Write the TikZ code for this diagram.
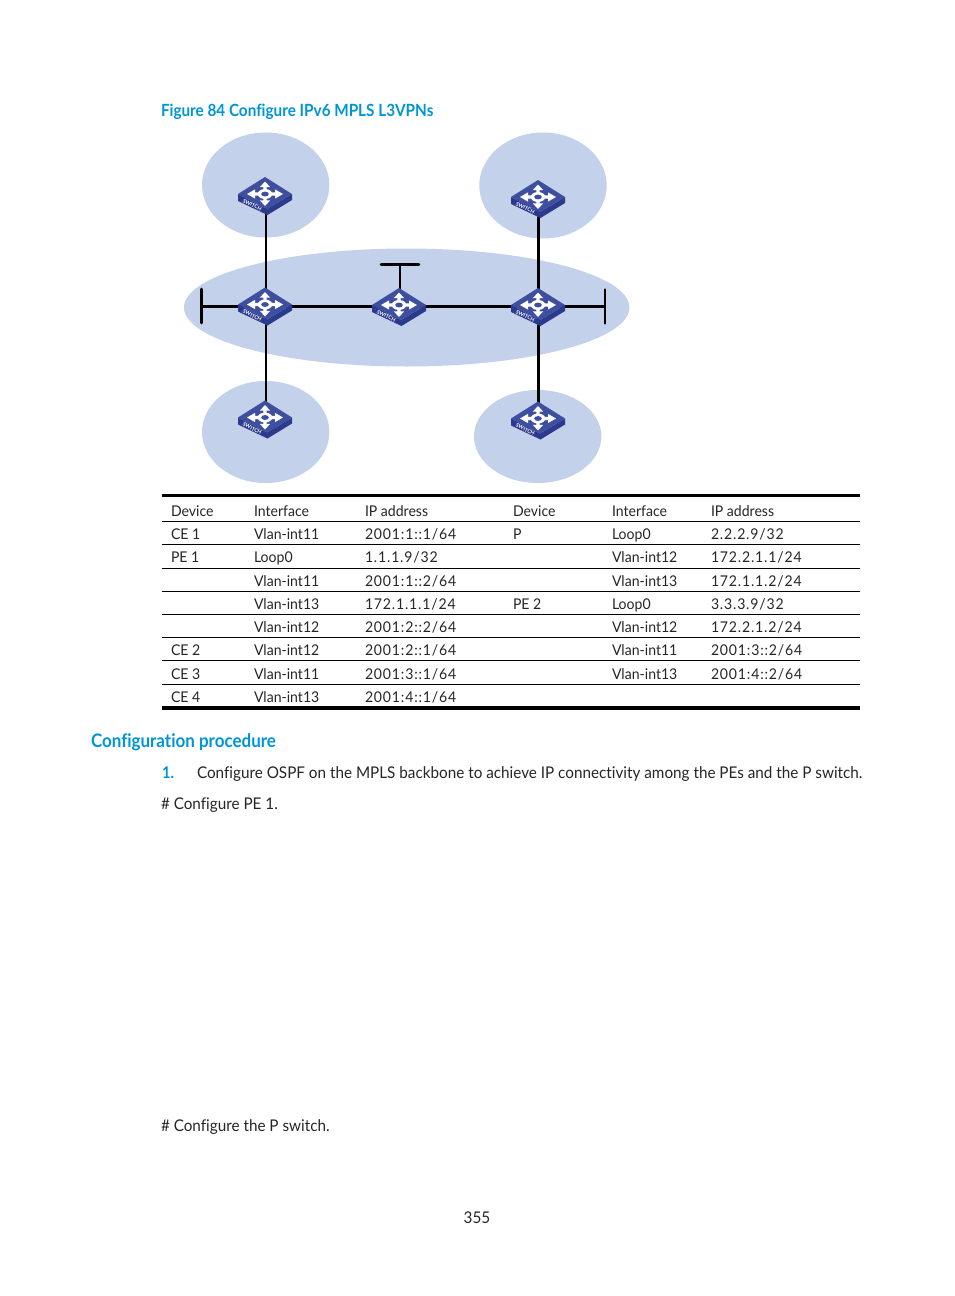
\documentclass[tikz,border=0pt]{standalone}
\usepackage{fontspec}
\setmainfont{Lato}
\newfontfamily\cellf[FakeStretch=0.95,Ligatures=NoCommon]{Lato}
\newfontfamily\addrf[FakeStretch=0.95,LetterSpace=5.6,Ligatures=NoCommon]{Lato}
\newfontfamily\bodyf[FakeStretch=0.946,Ligatures=NoCommon]{Lato}
\newfontfamily\headf[FakeStretch=0.91,Ligatures=NoCommon]{Lato}
\definecolor{hpblue}{HTML}{0096D6}
\definecolor{cloud}{HTML}{C3D1EB}
\definecolor{swtop}{HTML}{3F4F9F}
\definecolor{swside}{HTML}{2B3A8C}
\newcommand{\fs}[1]{\fontsize{#1}{#1}\selectfont}
\tikzset{
  x=0.75pt,y=-0.75pt,
  area/.style={fill=cloud,draw=none},
  link/.style={draw=black,line width=2.1pt},
  linkthin/.style={draw=black,line width=1.6pt},
  rulethin/.style={draw=black,line width=0.6pt},
  rulethick/.style={draw=black,line width=2.8pt},
  cell/.style={anchor=base west,inner sep=0pt,outer sep=0pt,font=\cellf\fs{11.1},text=black!85},
  addr/.style={anchor=base west,inner sep=0pt,outer sep=0pt,font=\addrf\fs{11.1},text=black!85},
  body/.style={anchor=base west,inner sep=0pt,outer sep=0pt,font=\bodyf\fs{12.1},text=black!85},
  heading/.style={anchor=base west,inner sep=0pt,outer sep=0pt,text=hpblue,font=\headf\bfseries\fs{12.6}},
  switch/.pic={
    \fill[swside] (-27,0) -- (2,15) -- (27,0) -- (27,6) -- (2.5,21) -- (-27,7) -- cycle;
    \fill[swtop] (-27,0) -- (0,-17) -- (27,0) -- (2,15) -- cycle;
    \begin{scope}[white]
      \fill (0,-12.5) -- (5.2,-6.8) -- (1.6,-6.8) -- (1.6,-2) -- (-1.6,-2) -- (-1.6,-6.8) -- (-5.2,-6.8) -- cycle;
      \fill (0,12) -- (5.2,6.3) -- (1.6,6.3) -- (1.6,2) -- (-1.6,2) -- (-1.6,6.3) -- (-5.2,6.3) -- cycle;
      \fill (-18,0) -- (-10,-4.6) -- (-10,-1.7) -- (-3,-1.7) -- (-3,1.7) -- (-10,1.7) -- (-10,4.6) -- cycle;
      \fill (18,0) -- (10,-4.6) -- (10,-1.7) -- (3,-1.7) -- (3,1.7) -- (10,1.7) -- (10,4.6) -- cycle;
      \fill (0,0) ellipse [x radius=7.2, y radius=5];
    \end{scope}
    \fill[swtop] (0,0) ellipse [x radius=3.8, y radius=2.4];
    \node[white,inner sep=0pt,font=\bfseries\fs{3.9},rotate=-27] (-lab) at (-12.7,11) {SWITCH};
  }
}
\newcommand{\cellat}[4]{\node[cell] (#1) at (#2,#3) {#4};}
\newcommand{\addrat}[4]{\node[addr] (#1) at (#2,#3) {#4};}
\begin{document}
\begin{tikzpicture}
\useasboundingbox (0,0) rectangle (954,1296);
\fill[white] (0,0) rectangle (954,1296);

\node[heading] (title) at (161,116) {Figure 84 Configure IPv6 MPLS L3VPNs};

% network areas
\fill[area] (265.7,185) ellipse [x radius=63.7, y radius=52.5];
\fill[area] (543,185.5) ellipse [x radius=63.7, y radius=53];
\fill[area] (406.7,307.5) ellipse [x radius=222.7, y radius=59];
\fill[area] (265.7,432) ellipse [x radius=63.7, y radius=51];
\fill[area] (537.7,436.5) ellipse [x radius=63.7, y radius=46.5];

% device positions
\coordinate (ce1) at (266,197);
\coordinate (ce2) at (538.3,200);
\coordinate (pe1) at (266,306.4);
\coordinate (p) at (400,306.4);
\coordinate (pe2) at (538.3,306.4);
\coordinate (ce3) at (266,418);
\coordinate (ce4) at (538.3,419);
\coordinate (lb1) at (201.5,289);
\coordinate (lb2) at (201.5,323);
\coordinate (lbm) at (201.5,306.4);
\coordinate (rb1) at (605,289.5);
\coordinate (rb2) at (605,323.5);
\coordinate (rbm) at (605,306.4);
\coordinate (tb1) at (381,264.3);
\coordinate (tb2) at (419,264.3);
\coordinate (tbm) at (400,264.3);

% connectors
\draw[link] (ce1) -- (pe1);
\draw[link] (pe1) -- (ce3);
\draw[link] (ce2) -- (pe2);
\draw[link] (pe2) -- (ce4);
\draw[link] (lbm) -- (pe1);
\draw[link] (pe1) -- (pe2);
\draw[link,line cap=round] (lb1) -- (lb2);
\draw[link] (pe2) -- (rbm);
\draw[linkthin,line cap=round] (rb1) -- (rb2);
\draw[link,line width=1.8pt] (p) -- (tbm);
\draw[link,line cap=round] (tb1) -- (tb2);

% switches
\pic (ce1i) at (265,194) {switch};
\pic (ce2i) at (538,197) {switch};
\pic (pe1i) at (265,304.5) {switch};
\pic (pi) at (399,305) {switch};
\pic (pe2i) at (538,305) {switch};
\pic (ce3i) at (265,417.5) {switch};
\pic (ce4i) at (538,418.5) {switch};

% table rules
\draw[rulethick] (162,495.5) -- (860,495.5);
\foreach \yy in {521,544.5,568,591,614,637,660.5,684}
  \draw[rulethin] (162,\yy) -- (860,\yy);
\draw[rulethick] (162,708) -- (860,708);

% table text
\cellat{a1}{171}{516}{Device}
\cellat{b1}{254}{516}{Interface}
\cellat{c1}{365}{516}{IP address}
\cellat{d1}{513}{516}{Device}
\cellat{e1}{612}{516}{Interface}
\cellat{f1}{711}{516}{IP address}
\cellat{a2}{171}{539}{CE 1}
\cellat{b2}{254}{539}{Vlan-int11}
\addrat{c2}{365}{539}{2001:1::1/64}
\cellat{d2}{513}{539}{P}
\cellat{e2}{612}{539}{Loop0}
\addrat{f2}{711}{539}{2.2.2.9/32}
\cellat{a3}{171}{562}{PE 1}
\cellat{b3}{254}{562}{Loop0}
\addrat{c3}{365}{562}{1.1.1.9/32}
\cellat{e3}{612}{562}{Vlan-int12}
\addrat{f3}{711}{562}{172.2.1.1/24}
\cellat{b4}{254}{586}{Vlan-int11}
\addrat{c4}{365}{586}{2001:1::2/64}
\cellat{e4}{612}{586}{Vlan-int13}
\addrat{f4}{711}{586}{172.1.1.2/24}
\cellat{b5}{254}{609}{Vlan-int13}
\addrat{c5}{365}{609}{172.1.1.1/24}
\cellat{d5}{513}{609}{PE 2}
\cellat{e5}{612}{609}{Loop0}
\addrat{f5}{711}{609}{3.3.3.9/32}
\cellat{b6}{254}{632}{Vlan-int12}
\addrat{c6}{365}{632}{2001:2::2/64}
\cellat{e6}{612}{632}{Vlan-int12}
\addrat{f6}{711}{632}{172.2.1.2/24}
\cellat{a7}{171}{655}{CE 2}
\cellat{b7}{254}{655}{Vlan-int12}
\addrat{c7}{365}{655}{2001:2::1/64}
\cellat{e7}{612}{655}{Vlan-int11}
\addrat{f7}{711}{655}{2001:3::2/64}
\cellat{a8}{171}{679}{CE 3}
\cellat{b8}{254}{679}{Vlan-int11}
\addrat{c8}{365}{679}{2001:3::1/64}
\cellat{e8}{612}{679}{Vlan-int13}
\addrat{f8}{711}{679}{2001:4::2/64}
\cellat{a9}{171}{702}{CE 4}
\cellat{b9}{254}{702}{Vlan-int13}
\addrat{c9}{365}{702}{2001:4::1/64}

% running text
\node[heading,font=\headf\bfseries\fs{14}] (sec) at (91,747) {Configuration procedure};
\node[body,text=hpblue,font=\headf\bfseries\fs{12.1}] (num) at (162,778) {1.};
\node[body] (step1) at (197,778) {Configure OSPF on the MPLS backbone to achieve IP connectivity among the PEs and the P switch.};
\node[body] (cfg1) at (161,809) {\# Configure PE 1.};
\node[body] (cfg2) at (161,1131) {\# Configure the P switch.};
\node[body,anchor=base] (page) at (477,1223) {355};
\end{tikzpicture}
\end{document}
